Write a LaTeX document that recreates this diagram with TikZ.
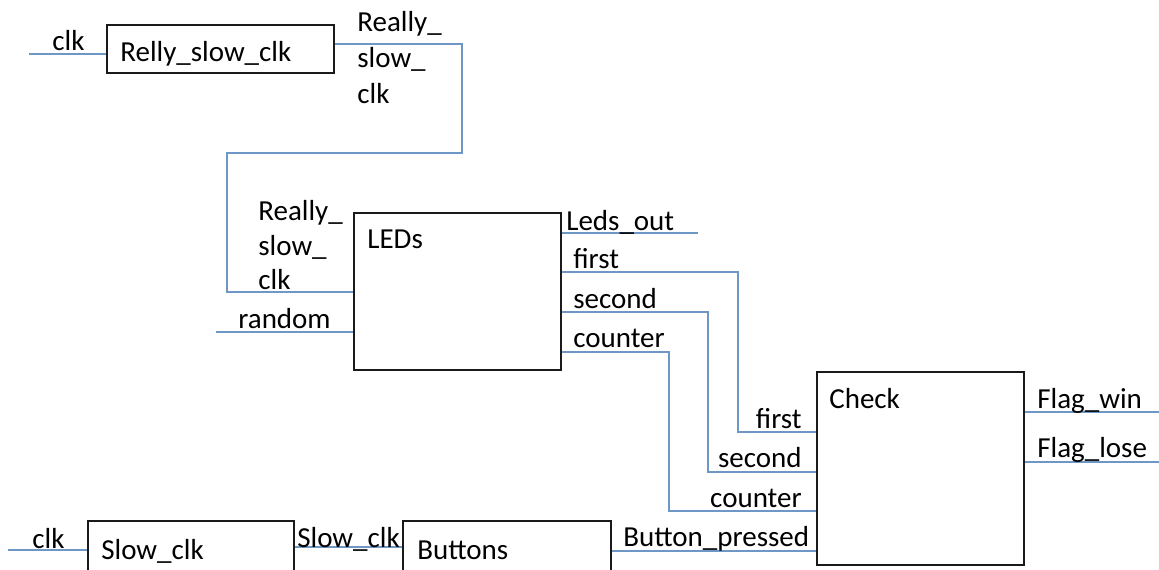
\documentclass[tikz,border=0pt]{standalone}
\usepackage{fontspec}
\setmainfont{Carlito}
\definecolor{wireblue}{HTML}{6F97C6}
\definecolor{boxline}{HTML}{1A1A1A}

\begin{document}
\begin{tikzpicture}[x=0.02cm,y=-0.02cm,
  font=\fontsize{16.5}{20}\selectfont,
  block/.style={draw=boxline,line width=0.8pt,inner sep=0pt},
  pin/.style={inner sep=0pt,anchor=base west},
  pinr/.style={inner sep=0pt,anchor=base east},
  wire/.style={draw=wireblue,line width=0.9pt}
]
\clip (0,0) rectangle (1159,569);
% blocks
\node[block,minimum width=4.54cm,minimum height=0.96cm] (rsc) at (220.5,49) {};
\node[block,minimum width=4.14cm,minimum height=3.14cm] (leds) at (457.5,291.5) {};
\node[block,minimum width=4.14cm,minimum height=3.86cm] (check) at (920.5,468.5) {};
\node[block,minimum width=4.12cm,minimum height=1.58cm] (sclk) at (191,560.5) {};
\node[block,minimum width=4.16cm,minimum height=1.58cm] (btn) at (507,560.5) {};
\node[pin] (rsc-t) at (120,61) {Relly\_slow\_clk};
\node[pin] (leds-t) at (367,248) {LEDs};
\node[pin] (check-t) at (829,408) {Check};
\node[pin] (sclk-t) at (101,559) {Slow\_clk};
\node[pin] (btn-t) at (417,559) {Buttons};
% free ends
\coordinate (clkA) at (29,54);
\coordinate (clkB) at (8,550);
\coordinate (rnd) at (216,332);
\coordinate (ledsout) at (698,233);
\coordinate (fwin) at (1159,412);
\coordinate (flose) at (1159,462);
% wires
\draw[wire] (clkA) -- (rsc.west |- clkA);
\draw[wire] (rsc.east |- 0,44) -| (462,153) -| (227,292) -- (leds.west |- 0,292);
\draw[wire] (rnd) -- (leds.west |- rnd);
\draw[wire] (leds.east |- ledsout) -- (ledsout);
\draw[wire] (leds.east |- 0,272) -| (738,432) -- (check.west |- 0,432);
\draw[wire] (leds.east |- 0,312) -| (708,472) -- (check.west |- 0,472);
\draw[wire] (leds.east |- 0,352) -| (669,511) -- (check.west |- 0,511);
\draw[wire] (btn.east |- 0,551) -- (check.west |- 0,551);
\draw[wire] (check.east |- fwin) -- (fwin);
\draw[wire] (check.east |- flose) -- (flose);
\draw[wire] (clkB) -- (sclk.west |- clkB);
\draw[wire] (sclk.east |- 0,547) -- (btn.west |- 0,547);
% labels
\node[pin] (l-clkA) at (52,50) {clk};
\node[pin] (l-rs1) at (357,31) {Really\_};
\node[pin] (l-rs2) at (357,67) {slow\_};
\node[pin] (l-rs3) at (357,103) {clk};
\node[pin] (l-ri1) at (258,220) {Really\_};
\node[pin] (l-ri2) at (258,255) {slow\_};
\node[pin] (l-ri3) at (258,289) {clk};
\node[pin] (l-rnd) at (238,328) {random};
\node[pin] (l-out) at (566,230) {Leds\_out};
\node[pin] (l-f1) at (573,268) {first};
\node[pin] (l-s1) at (573,308) {second};
\node[pin] (l-c1) at (573,347) {counter};
\node[pinr] (l-f2) at (802,428) {first};
\node[pinr] (l-s2) at (802,467) {second};
\node[pinr] (l-c2) at (802,507) {counter};
\node[pin] (l-bp) at (623,546) {Button\_pressed};
\node[pin] (l-fw) at (1037,408) {Flag\_win};
\node[pin] (l-fl) at (1037,457) {Flag\_lose};
\node[pin] (l-clkB) at (32,548) {clk};
\node[pin] (l-sc) at (297,547) {Slow\_clk};
\end{tikzpicture}
\end{document}
